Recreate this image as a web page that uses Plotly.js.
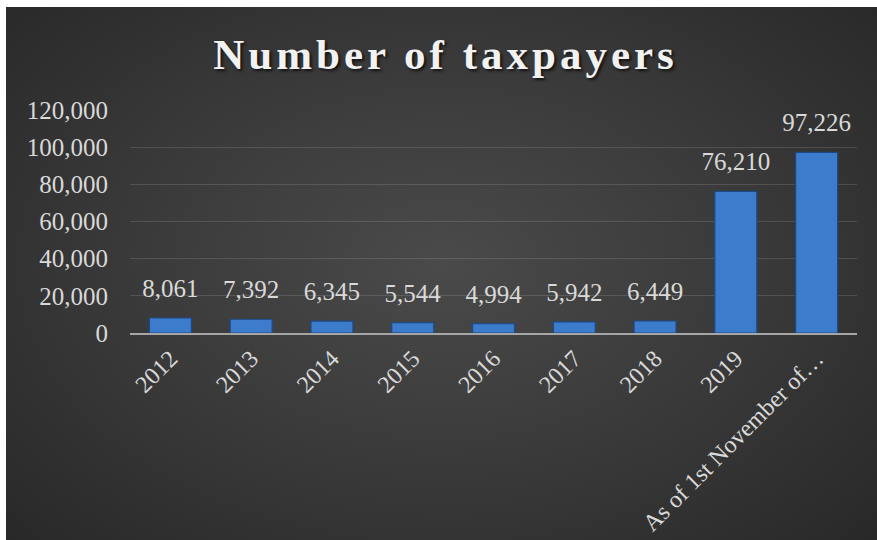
<!DOCTYPE html>
<html>
<head>
<meta charset="utf-8">
<script src="https://cdn.plot.ly/plotly-3.0.1.min.js"></script>
<style>
  html, body { margin: 0; padding: 0; background: #ffffff; }
  #wrap { position: relative; width: 877px; height: 540px; overflow: hidden; }
  #bg { position: absolute; left: 6px; top: 7px; right: 0; bottom: 0;
        background: radial-gradient(ellipse 70% 75% at 50% 48%, #4a4a4a 0%, #3a3a3a 50%, #282828 100%); }
  #chart { position: absolute; left: 0; top: 0; width: 877px; height: 540px; }
  #chart .gtitle { letter-spacing: 4px; }
</style>
</head>
<body>
<div id="wrap">
  <div id="bg"></div>
  <div id="chart"></div>
</div>
<script>
const categories = ["2012", "2013", "2014", "2015", "2016", "2017", "2018", "2019", "As of 1st November of\u2026"];
const taxpayers = [8061, 7392, 6345, 5544, 4994, 5942, 6449, 76210, 97226];
const yTicks = [0, 20000, 40000, 60000, 80000, 100000, 120000];
const chartTitle = "Number of taxpayers";

const serif = "Liberation Serif, Times New Roman, serif";

const bars = {
  type: "bar",
  x: categories,
  y: taxpayers,
  marker: { color: "#3d7bcc", line: { color: "#1d4a85", width: 1.2 } },
  hoverinfo: "skip"
};

const labels = {
  type: "scatter",
  mode: "markers+text",
  x: categories,
  y: taxpayers,
  text: taxpayers.map(v => v.toLocaleString("en-US")),
  textposition: "top center",
  marker: { size: 22, color: "rgba(0,0,0,0)" },
  textfont: { family: serif, size: 25, color: "#d9d9d9" },
  cliponaxis: false,
  hoverinfo: "skip"
};

const layout = {
  width: 877,
  height: 540,
  margin: { l: 130, r: 20, t: 110, b: 207, pad: 0 },
  paper_bgcolor: "rgba(0,0,0,0)",
  plot_bgcolor: "rgba(0,0,0,0)",
  bargap: 0.48,
  showlegend: false,
  title: {
    text: "<b>" + chartTitle + "</b>",
    x: 0.508, xanchor: "center",
    y: 0.9, yanchor: "middle",
    font: { family: serif, size: 43, color: "#f2f2f2", shadow: "2px 2px 3px rgba(0,0,0,0.7)" }
  },
  xaxis: {
    type: "category",
    range: [-0.5, categories.length - 0.5],
    tickangle: -45,
    tickfont: { family: serif, size: 24, color: "#d9d9d9" },
    ticks: "",
    showgrid: false,
    showline: true, linecolor: "#a6a6a6", linewidth: 2,
    zeroline: false
  },
  yaxis: {
    range: [0, 120000],
    tickvals: yTicks,
    tickformat: ",d",
    tickfont: { family: serif, size: 25, color: "#d9d9d9" },
    ticks: "outside", ticklen: 16, tickcolor: "rgba(0,0,0,0)",
    showgrid: true, gridcolor: "rgba(255,255,255,0.13)", gridwidth: 1,
    zeroline: false, showline: false
  }
};

Plotly.newPlot("chart", [bars, labels], layout, { displayModeBar: false, staticPlot: true });
</script>
</body>
</html>
